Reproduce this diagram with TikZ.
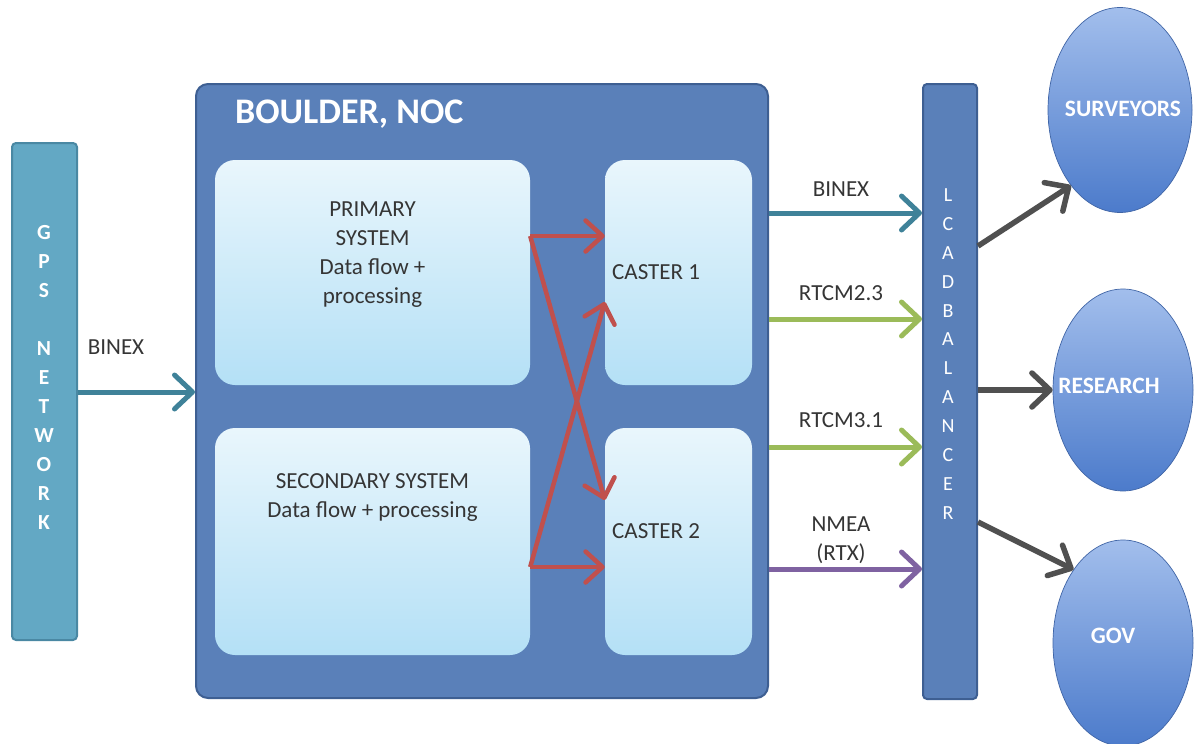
\documentclass[tikz,border=0pt]{standalone}
\usepackage{fontspec}
\setmainfont{Carlito}
\usetikzlibrary{arrows.meta,shapes.geometric,calc}

\definecolor{gpsFill}{HTML}{63A8C4}
\definecolor{gpsLine}{HTML}{4A88A3}
\definecolor{nocFill}{HTML}{5A80B9}
\definecolor{nocLine}{HTML}{3E5F92}
\definecolor{sysTop}{HTML}{E9F6FC}
\definecolor{sysBot}{HTML}{B4E0F6}
\definecolor{txt}{HTML}{353535}
\definecolor{tealArrow}{HTML}{3F8299}
\definecolor{redArrow}{HTML}{C0504D}
\definecolor{greenArrow}{HTML}{9BBB59}
\definecolor{purpleArrow}{HTML}{7F62A1}
\definecolor{grayArrow}{HTML}{505050}
\definecolor{ellTop}{HTML}{A2BEEC}
\definecolor{ellBot}{HTML}{4C7BCB}
\definecolor{ellLine}{HTML}{4065A6}

\begin{document}
\begin{tikzpicture}[x=1pt,y=-1pt,
  bar/.style={draw=#1, line width=2pt, rounded corners=4pt, inner sep=0pt},
  panel/.style={rounded corners=20pt, top color=sysTop, bottom color=sysBot, draw=none, inner sep=0pt},
  client/.style={ellipse, draw=ellLine, line width=0.7pt, top color=ellTop, bottom color=ellBot, inner sep=0pt},
  body/.style={text=txt, font=\fontsize{23}{29}\selectfont, align=center, inner sep=0pt},
  whitebold/.style={text=white, font=\fontsize{23.5}{28}\selectfont\bfseries, inner sep=0pt},
  flow/.style={line width=5pt, color=#1, -{Straight Barb[length=18pt,width=34pt,round]}},
  cross/.style={line width=4.5pt, color=redArrow, -{Straight Barb[length=17pt,width=31pt,round]}},
]
\useasboundingbox (0,0) rectangle (1194,744);

% GPS network column
\node[bar=gpsLine, fill=gpsFill, minimum width=65pt, minimum height=497pt] (gps) at (44.5,391.5) {};
\node[text=white, font=\fontsize{21.5}{29}\selectfont\bfseries, align=center, inner sep=0pt]
  (gpstext) at (44,377) {G\\P\\S\\\mbox{}\\N\\E\\T\\W\\O\\R\\K};

% Boulder NOC enclosure
\node[draw=nocLine, fill=nocFill, line width=2pt, rounded corners=12pt, inner sep=0pt,
      minimum width=572pt, minimum height=614pt] (noc) at (482,391) {};
\node[text=white, font=\fontsize{36}{40}\selectfont\bfseries, anchor=west, inner sep=0pt]
  (noctitle) at (235,114) {BOULDER, NOC};

% processing systems and casters
\node[panel, minimum width=315pt, minimum height=225pt] (primary) at (372.5,272.5) {};
\node[panel, minimum width=315pt, minimum height=227pt] (secondary) at (372.5,541.5) {};
\node[panel, minimum width=147pt, minimum height=225pt] (caster1) at (678.5,272.5) {};
\node[panel, minimum width=147pt, minimum height=227pt] (caster2) at (678.5,541.5) {};

\node[body] (primarytext) at (372.5,255) {PRIMARY\\SYSTEM\\Data flow +\\processing};
\node[body] (secondarytext) at (372.5,498) {SECONDARY SYSTEM\\Data flow + processing};
\node[body, anchor=west] (caster1text) at (612,272) {CASTER 1};
\node[body, anchor=west] (caster2text) at (612,531) {CASTER 2};

% load balancer column
\node[bar=nocLine, fill=nocFill, minimum width=54pt, minimum height=615pt] (lb) at (950,391.5) {};
\node[text=white, font=\fontsize{20}{28.9}\selectfont, align=center, inner sep=0pt]
  (lbtext) at (948,354) {L\\C\\A\\D\\B\\A\\L\\A\\N\\C\\E\\R};

% client groups
\node[client, minimum width=144pt, minimum height=205pt] (surv) at (1120,110) {};
\node[client, minimum width=140pt, minimum height=202pt] (res) at (1123,390) {};
\node[client, minimum width=140pt, minimum height=206pt] (gov) at (1123,643) {};
\node[whitebold] (survtext) at (1123,109) {SURVEYORS};
\node[whitebold] (restext) at (1109,386) {RESEARCH};
\node[whitebold] (govtext) at (1113,636) {GOV};

% incoming GPS data
\draw[flow=tealArrow] (gps.east |- 0,392) -- (noc.west |- 0,392);
\node[body] (binexin) at (116,347) {BINEX};

% cross-feeds from the systems to the casters
\coordinate (pOut) at (primary.east |- 0,236);
\coordinate (sOut) at (secondary.east |- 0,567);
\draw[cross] (pOut) -- (caster1.west |- pOut);
\draw[cross] (pOut) -- (caster2.west |- 0,500);
\draw[cross] (sOut) -- (caster1.west |- 0,302);
\draw[cross] (sOut) -- (caster2.west |- sOut);

% caster outputs to the load balancer
\draw[flow=tealArrow]   (noc.east |- 0,213) -- (lb.west |- 0,213);
\draw[flow=greenArrow]  (noc.east |- 0,319) -- (lb.west |- 0,319);
\draw[flow=greenArrow]  (noc.east |- 0,447) -- (lb.west |- 0,447);
\draw[flow=purpleArrow] (noc.east |- 0,569) -- (lb.west |- 0,569);
\node[body] (l1) at (841,189) {BINEX};
\node[body] (l2) at (841,293) {RTCM2.3};
\node[body] (l3) at (841,420) {RTCM3.1};
\node[body] (l4) at (841,540) {NMEA\\(RTX)};

% distribution to clients
\draw[flow=grayArrow, line width=5.5pt] (lb.east |- 0,246) -- (surv.237);
\draw[flow=grayArrow, line width=5.5pt] (lb.east |- 0,390) -- (res.west);
\draw[flow=grayArrow, line width=5.5pt] (lb.east |- 0,522) -- (gov.124);
\end{tikzpicture}
\end{document}
